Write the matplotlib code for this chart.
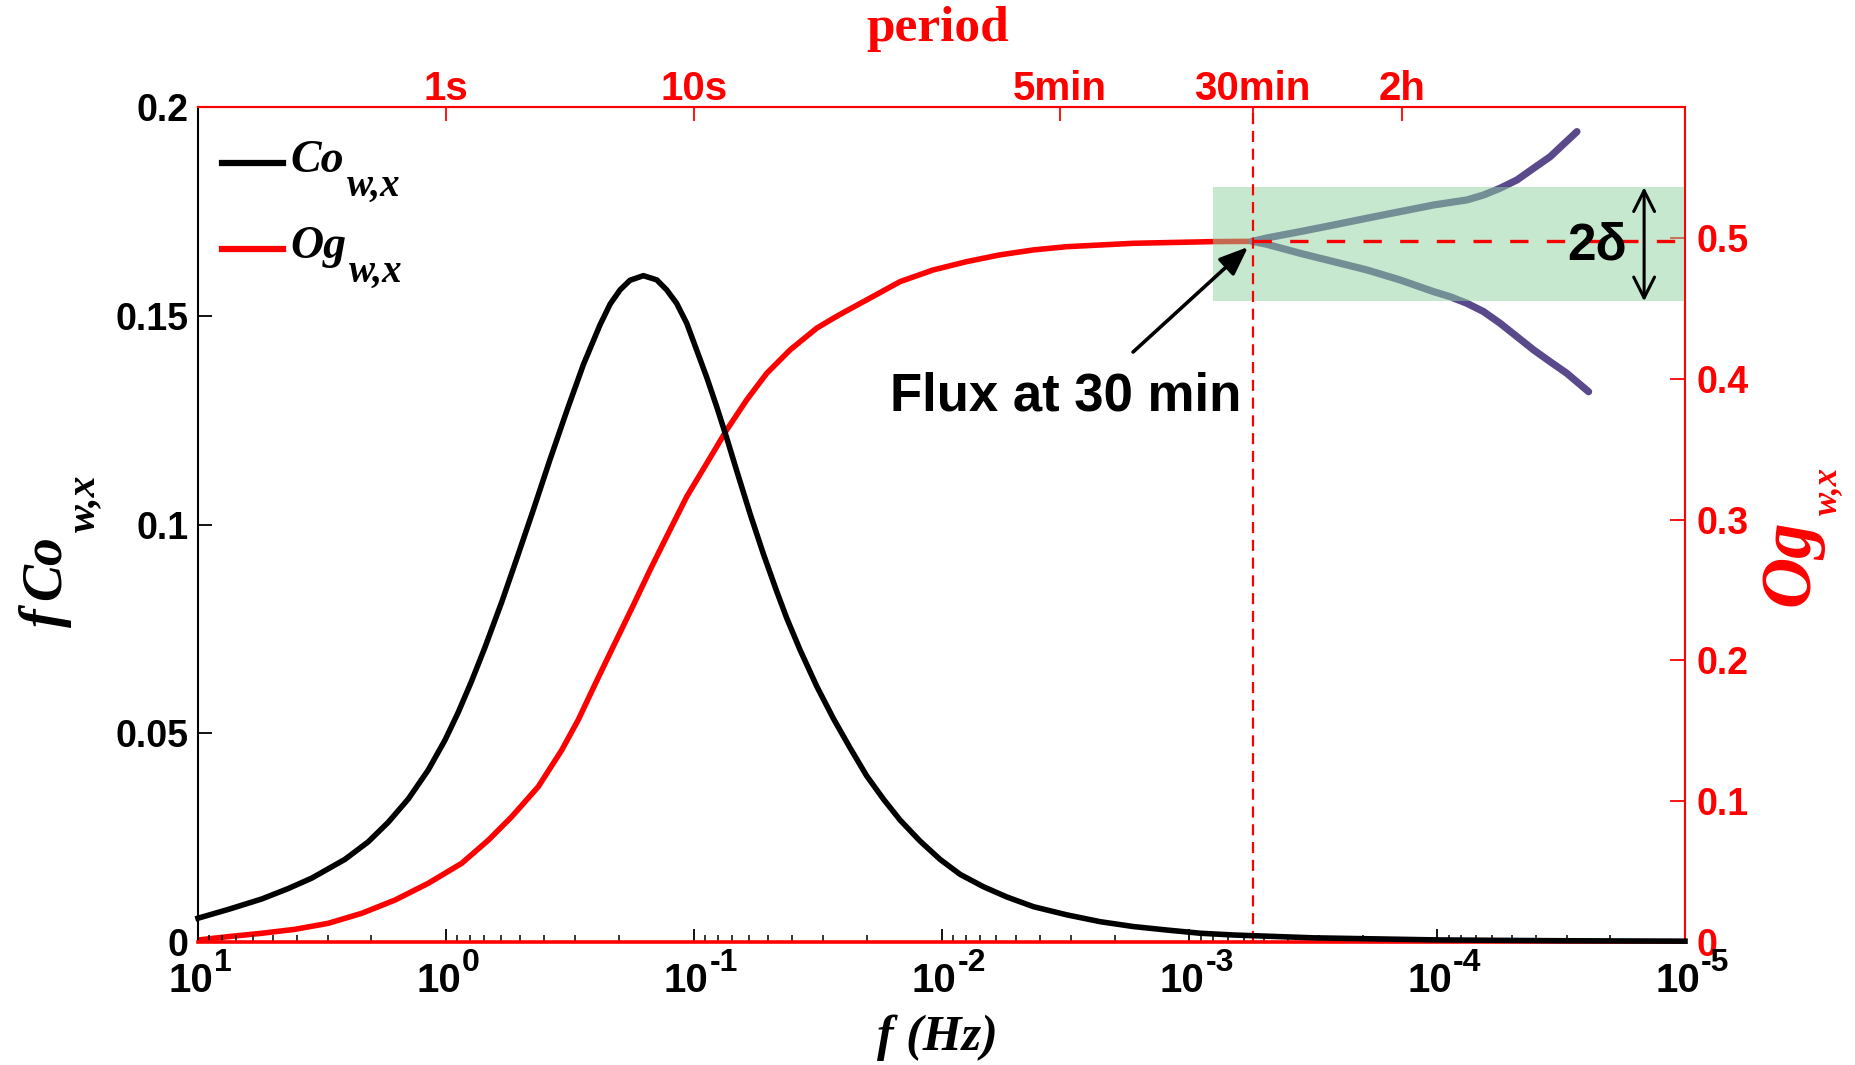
import matplotlib
matplotlib.use("Agg")
import matplotlib.pyplot as plt
import numpy as np
from matplotlib import font_manager
from matplotlib.lines import Line2D
from matplotlib.transforms import offset_copy
from matplotlib.ticker import LogLocator, NullLocator, NullFormatter

# --- data (log10 of frequency, value) ---
co_logf = [1.0, 0.878, 0.743, 0.636, 0.541, 0.407, 0.313, 0.232, 0.151, 0.071, 0.003,
           -0.050, -0.104, -0.158, -0.226, -0.286, -0.353, -0.420, -0.488, -0.555,
           -0.622, -0.663, -0.703, -0.743, -0.797, -0.851, -0.891, -0.931, -0.972,
           -1.012, -1.053, -1.093, -1.133, -1.173, -1.228, -1.281, -1.335, -1.376,
           -1.429, -1.497, -1.564, -1.631, -1.698, -1.766, -1.833, -1.913, -1.994,
           -2.075, -2.169, -2.263, -2.371, -2.506, -2.640, -2.774, -2.909, -3.044,
           -3.178, -3.5, -4.0, -4.5, -5.0]
co_val = [0.0057, 0.0078, 0.0103, 0.0128, 0.0153, 0.0198, 0.0240, 0.0287, 0.0343, 0.0412,
          0.0484, 0.0550, 0.0625, 0.0706, 0.0815, 0.0918, 0.1035, 0.1155, 0.1272, 0.1383,
          0.1478, 0.1528, 0.1562, 0.1585, 0.1596, 0.1586, 0.1562, 0.1530, 0.1482,
          0.1418, 0.1352, 0.1282, 0.1208, 0.1130, 0.1025, 0.0930, 0.0840, 0.0775,
          0.0700, 0.0612, 0.0535, 0.0465, 0.0398, 0.0342, 0.0292, 0.0242, 0.0198,
          0.0162, 0.01325, 0.0108, 0.00846, 0.0065, 0.00487, 0.0037, 0.00287, 0.0021,
          0.00168, 0.0010, 0.0005, 0.0003, 0.0002]

og_logf = [1.0, 0.878, 0.743, 0.609, 0.474, 0.339, 0.205, 0.071, -0.064, -0.172, -0.266,
           -0.373, -0.468, -0.535, -0.602, -0.676, -0.756, -0.824, -0.891, -0.972,
           -1.053, -1.133, -1.214, -1.295, -1.389, -1.497, -1.564, -1.604, -1.698,
           -1.833, -1.967, -2.102, -2.236, -2.371, -2.505, -2.640, -2.774, -3.097, -3.255]
og_val = [0.0014, 0.0038, 0.0062, 0.0090, 0.0133, 0.0204, 0.0298, 0.0417, 0.0559, 0.0724,
          0.0890, 0.1103, 0.1364, 0.1580, 0.1830, 0.2100, 0.2390, 0.2642, 0.2879, 0.3163,
          0.3400, 0.3636, 0.3850, 0.4039, 0.4205, 0.4360, 0.4430, 0.4470, 0.4560,
          0.4690, 0.4773, 0.4832, 0.4880, 0.4915, 0.4938, 0.4950, 0.4962, 0.4974, 0.4976]

upper_logf = [-3.255, -3.313, -3.447, -3.582, -3.716, -3.850, -3.985, -4.120, -4.187,
              -4.254, -4.322, -4.389, -4.456, -4.564]
upper_val = [0.4976, 0.5000, 0.5045, 0.5092, 0.5140, 0.5187, 0.5234, 0.5270, 0.5305,
             0.5353, 0.5412, 0.5495, 0.5577, 0.5755]
lower_logf = [-3.255, -3.313, -3.447, -3.582, -3.716, -3.850, -3.985, -4.052, -4.120,
              -4.187, -4.254, -4.322, -4.389, -4.456, -4.523, -4.611]
lower_val = [0.4976, 0.4955, 0.4891, 0.4832, 0.4773, 0.4702, 0.4619, 0.4583, 0.4536,
             0.4477, 0.4394, 0.4299, 0.4205, 0.4121, 0.4039, 0.3908]

period_freq = [1.0, 0.1, 1 / 300, 1 / 1800, 1 / 7200]
period_labels = ["1s", "10s", "5min", "30min", "2h"]

decades = [1, 0, -1, -2, -3, -4, -5]
left_ticks = [0, 0.05, 0.1, 0.15, 0.2]
left_labels = ["0", "0.05", "0.1", "0.15", "0.2"]
right_ticks = [0, 0.1, 0.2, 0.3, 0.4, 0.5]
right_labels = ["0", "0.1", "0.2", "0.3", "0.4", "0.5"]

f30 = 1 / 1800
og_30 = 0.4976
band_lo, band_hi = 0.455, 0.536
band_start = 10 ** -3.096

names = {f.name for f in font_manager.fontManager.ttflist}
narrow = "Liberation Sans Narrow" if "Liberation Sans Narrow" in names else "Liberation Sans"

plt.rcParams["font.family"] = ["Liberation Sans", "DejaVu Sans"]
plt.rcParams["font.weight"] = "bold"

RED = "#ff0000"
PURPLE = "#5a4a8c"
W, H = 1856, 1065


def fx(px):
    return px / W


def fy(py):
    return 1 - py / H


fig = plt.figure(figsize=(18.56, 10.65), dpi=100)
ax2 = fig.add_axes([0.10668, 0.11549, 0.80119, 0.78404])
ax = ax2.twinx()
# ax: left (black) axis on top; ax2: right (red) axis
ax.yaxis.tick_left()
ax2.yaxis.tick_right()
ax.xaxis.set_visible(True)
ax.set_zorder(ax2.get_zorder() + 1)
ax.patch.set_visible(False)

ax.set_xscale("log")
ax2.set_xscale("log")
ax.set_xlim(10, 1e-5)
ax.set_ylim(0, 0.2)
ax2.set_ylim(0, 0.593)

co_f = 10 ** np.array(co_logf)
og_f = 10 ** np.array(og_logf)
ax.plot(co_f, co_val, color="black", lw=4.0, zorder=3, clip_on=False,
        solid_joinstyle="round")
ax2.plot(og_f, og_val, color=RED, lw=4.0, zorder=3, solid_joinstyle="round")

ax2.plot(10 ** np.array(upper_logf), upper_val, color=PURPLE, lw=5.2,
         solid_capstyle="round", solid_joinstyle="round", zorder=3)
ax2.plot(10 ** np.array(lower_logf), lower_val, color=PURPLE, lw=5.2,
         solid_capstyle="round", solid_joinstyle="round", zorder=3)

ax2.fill_between([band_start, 1e-5], band_lo, band_hi, color="#8fd3a0", alpha=0.5,
                 lw=0, zorder=4)
ax2.plot([f30, 1e-5], [og_30, og_30], color=RED, lw=2.4, dashes=(5.5, 5.5), zorder=5)
ax2.axvline(f30, color=RED, lw=1.6, dashes=(5, 3), zorder=5)

ax2.annotate("", xy=(10 ** -3.237, 0.4936), xytext=(10 ** -2.773, 0.419),
             arrowprops=dict(arrowstyle="-|>,head_length=0.5,head_width=0.2",
                             lw=2.6, color="black", mutation_scale=35,
                             shrinkA=0, shrinkB=0), zorder=6)
ax2.text(10 ** -2.503, 0.3778, "Flux at 30 min", fontsize=38, fontweight="bold",
         ha="center", va="baseline", zorder=6)

ax2.annotate("", xy=(10 ** -4.835, band_hi), xytext=(10 ** -4.835, band_lo),
             arrowprops=dict(arrowstyle="<->,head_length=0.5,head_width=0.25",
                             lw=2.2, color="black", mutation_scale=30,
                             shrinkA=0, shrinkB=0), zorder=6)
ax2.text(10 ** -4.646, 0.4844, "2δ", fontsize=37, fontweight="bold",
         ha="center", va="baseline", zorder=6)

# ticks
ax.set_yticks(left_ticks, labels=left_labels)
ax.tick_params(axis="y", direction="in", length=10, width=1.3, labelsize=27, pad=7)
ax2.set_yticks(right_ticks, labels=right_labels)
ax2.tick_params(axis="y", direction="in", length=11, width=1.3, labelsize=27, pad=8,
                colors=RED)

# bottom decade labels written as "10" + raised exponent
ax.set_xticks([10.0 ** d for d in decades], labels=[""] * len(decades))
ax.xaxis.set_minor_locator(LogLocator(base=10, subs=np.arange(2, 10), numticks=50))
ax.xaxis.set_minor_formatter(NullFormatter())
ax.tick_params(axis="x", which="major", direction="in", length=9.5, width=1.3,
               bottom=True, labelbottom=True)
ax.tick_params(axis="x", which="minor", direction="in", length=5, width=1.1,
               bottom=True)
ax2.tick_params(axis="x", which="both", bottom=False, labelbottom=False)

xtr = ax.get_xaxis_transform()
for d in decades:
    ax.text(10.0 ** d, 0, "10", fontsize=29, ha="right", va="baseline",
            transform=offset_copy(xtr, fig=fig, x=15, y=-50, units="dots"),
            clip_on=False)
    ax.text(10.0 ** d, 0, str(d).replace("-", "-"), fontsize=23, ha="left",
            va="baseline", transform=offset_copy(xtr, fig=fig, x=16, y=-29, units="dots"),
            clip_on=False)

sec = ax.secondary_xaxis("top", functions=(lambda x: x, lambda x: x))
sec.set_xticks(period_freq, labels=period_labels)
sec.xaxis.set_minor_locator(NullLocator())
sec.tick_params(axis="x", direction="in", length=10, width=1.3, colors=RED, pad=-1)
for lbl in sec.get_xticklabels():
    lbl.set_fontfamily([narrow, "Liberation Sans"])
    lbl.set_fontsize(29)
    lbl.set_fontweight("bold")
sec.spines["top"].set_color(RED)
sec.spines["top"].set_linewidth(1.5)

for s in ax2.spines.values():
    s.set_visible(False)
ax.spines["left"].set_color("black")
ax.spines["left"].set_linewidth(1.5)
ax.spines["right"].set_color(RED)
ax.spines["right"].set_linewidth(1.5)
ax.spines["top"].set_color(RED)
ax.spines["top"].set_linewidth(1.5)
ax.spines["bottom"].set_color(RED)
ax.spines["bottom"].set_linewidth(2.6)

serif = dict(fontfamily="Liberation Serif", fontstyle="italic", fontweight="bold")
renderer = fig.canvas.get_renderer()


def vlabel(y_start, parts, color):
    """Vertical label: list of (text, size, baseline_x, gap_px)."""
    y = y_start
    for txt, size, xb, gap in parts:
        y -= gap
        t = fig.text(fx(xb), fy(y), txt, fontsize=size, rotation=90,
                     rotation_mode="anchor", ha="left", va="baseline", color=color,
                     **serif)
        bb = t.get_window_extent(renderer)
        y = H - bb.y1


def hlabel(x_start, parts, color="black"):
    """Horizontal label: list of (text, size, baseline_y, gap_px)."""
    x = x_start
    for txt, size, yb, gap in parts:
        x += gap
        t = fig.text(fx(x), fy(yb), txt, fontsize=size, ha="left", va="baseline",
                     color=color, **serif)
        bb = t.get_window_extent(renderer)
        x = bb.x1


# axis labels (main symbol + lowered subscript)
vlabel(627, [("f", 40, 60, 0), ("Co", 40, 60, 8), ("w,x", 30, 94, 4)], "black")
vlabel(606, [("Og", 51, 1808, 0), ("w,x", 25, 1836, 4)], RED)
fig.text(fx(937), fy(1038), "f (Hz)", fontsize=36, ha="center", va="center", **serif)
fig.text(fx(938), fy(29), "period", fontsize=37, fontfamily="Liberation Serif",
         fontweight="bold", color=RED, ha="center", va="center")

# legend
for py, col, name in [(163, "black", "Co"), (249, RED, "Og")]:
    fig.add_artist(Line2D([fx(222), fx(283)], [fy(py), fy(py)], color=col, lw=4.5))
    hlabel(290, [(name, 33, py + 9, 0), ("w,x", 28, py + 33, 3)])

fig.savefig("out.png", dpi=100)
